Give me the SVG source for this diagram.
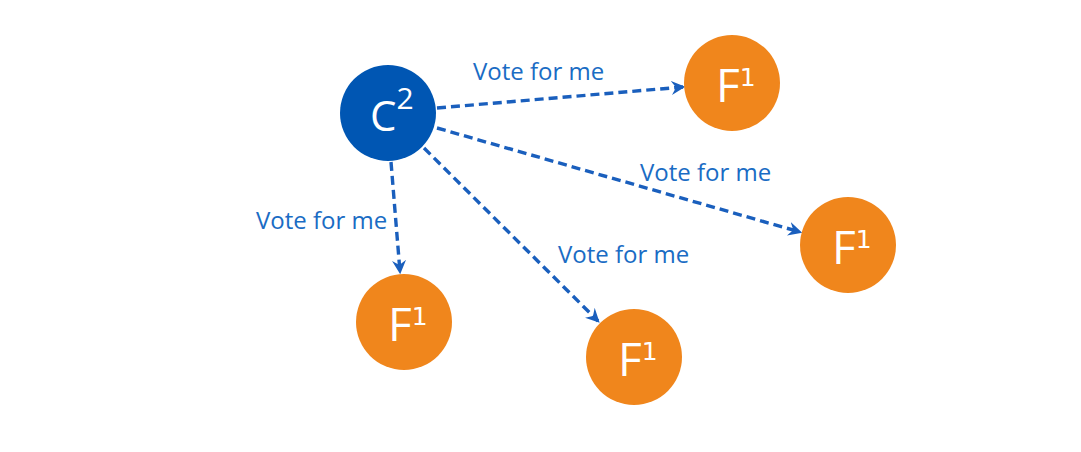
<svg xmlns="http://www.w3.org/2000/svg" width="1081" height="452" viewBox="0 0 1081 452">
<style>
.lbl{font-family:"Open Sans","Liberation Sans",sans-serif;font-size:24px;fill:#1a6cc4}
.cc{fill:#0056b3}
.fc{fill:#f0861c}
.nt{font-family:"Open Sans","Liberation Sans",sans-serif;fill:#fff;font-size:46px}
.sup{font-family:"DejaVu Sans",sans-serif;font-size:25px}
.edge{stroke:#1a5fbd;stroke-width:3.4;stroke-dasharray:9 5;fill:none;marker-end:url(#ah)}
</style>
<defs>
<marker id="ah" viewBox="0 0 12 12" refX="10" refY="6" markerWidth="14" markerHeight="14" markerUnits="userSpaceOnUse" orient="auto">
<path d="M0,0 L12,6 L0,12 L4,6 Z" fill="#1a5fbd"/>
</marker>
</defs>
<rect width="1081" height="452" fill="#fff"/>
<g id="edges">
<path class="edge" d="M437,108 L683,87"/>
<path class="edge" d="M437,128 L800,232"/>
<path class="edge" d="M391,162 L400,272"/>
<path class="edge" d="M424,148 L598,321"/>
</g>
<g id="labels">
<text class="lbl" x="473" y="80">Vote for me</text>
<text class="lbl" x="640" y="181">Vote for me</text>
<text class="lbl" x="256" y="229">Vote for me</text>
<text class="lbl" x="558" y="263">Vote for me</text>
</g>
<g id="nodeC">
<circle class="cc" cx="388" cy="113" r="48"/>
<text class="nt" x="370" y="131" style="font-size:42px">C<tspan dx="0" dy="-22" style="font-size:30px">2</tspan></text>
</g>
<g id="nodeF1">
<circle class="fc" cx="732" cy="83" r="48"/>
<text class="nt" x="716" y="102">F<tspan class="sup" dx="0" dy="-16">1</tspan></text>
</g>
<g id="nodeF2">
<circle class="fc" cx="848" cy="245" r="48"/>
<text class="nt" x="832" y="264">F<tspan class="sup" dx="0" dy="-16">1</tspan></text>
</g>
<g id="nodeF3">
<circle class="fc" cx="404" cy="322" r="48"/>
<text class="nt" x="388" y="341">F<tspan class="sup" dx="0" dy="-16">1</tspan></text>
</g>
<g id="nodeF4">
<circle class="fc" cx="634" cy="357" r="48"/>
<text class="nt" x="618" y="376">F<tspan class="sup" dx="0" dy="-16">1</tspan></text>
</g>
</svg>
